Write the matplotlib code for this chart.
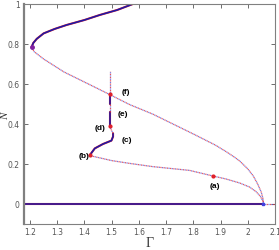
import matplotlib
matplotlib.use('Agg')
import matplotlib.pyplot as plt

# upper stable branch (solid)
gam_up = [1.206, 1.212, 1.225, 1.25, 1.29, 1.334, 1.40, 1.456, 1.52, 1.578]
n_up = [0.785, 0.805, 0.826, 0.853, 0.875, 0.895, 0.92, 0.945, 0.97, 1.0]

# upper unstable branch (dotted)
gam_mid = [1.206, 1.215, 1.25, 1.325, 1.422, 1.496, 1.566, 1.65, 1.725, 1.80,
           1.88, 1.92, 1.95, 1.97, 2.0, 2.02, 2.036, 2.049, 2.055, 2.058]
n_mid = [0.785, 0.762, 0.725, 0.66, 0.595, 0.545, 0.497, 0.45, 0.40, 0.35,
         0.295, 0.262, 0.235, 0.215, 0.175, 0.14, 0.10, 0.06, 0.03, 0.0]

# lower unstable branch (dotted), from (b) to the end
gam_low = [1.42, 1.5, 1.566, 1.65, 1.786, 1.872, 1.92, 1.97, 2.006, 2.03, 2.045, 2.055, 2.058]
n_low = [0.242, 0.217, 0.203, 0.187, 0.168, 0.14, 0.125, 0.105, 0.085, 0.062, 0.04, 0.015, 0.0]

# (b) -> (c) solid
gam_bc = [1.42, 1.438, 1.468, 1.499, 1.505, 1.505]
n_bc = [0.245, 0.278, 0.30, 0.317, 0.337, 0.353]

# (c) -> (d) dotted
gam_cd = [1.505, 1.498, 1.493]
n_cd = [0.353, 0.372, 0.388]

# vertical pieces near Gamma = 1.493
gam_v = 1.493
n_de = [0.388, 0.46]     # solid
n_e_f = [0.46, 0.50]     # dotted
n_f = [0.50, 0.548]      # solid
n_top = [0.548, 0.665]   # dotted

# trivial branch
gam_zero_solid = [1.18, 2.055]
gam_zero_dot = [2.055, 2.1]

# marked points
pts = {'(a)': (1.872, 0.14), '(b)': (1.42, 0.245), '(d)': (1.493, 0.388), '(f)': (1.493, 0.548)}
labels = {'(a)': (1.878, 0.085), '(b)': (1.40, 0.237), '(c)': (1.554, 0.32),
          '(d)': (1.456, 0.375), '(e)': (1.54, 0.45), '(f)': (1.552, 0.558)}

RED = '#e0202a'
BLUE = '#1a1aa8'


def solid(x, y):
    plt.plot(x, y, '-', color=RED, lw=1.5, solid_capstyle='round')
    plt.plot(x, y, '-', color=BLUE, lw=1.1, solid_capstyle='round')


def dotted(x, y):
    plt.plot(x, y, color=RED, lw=0.9, linestyle=(0, (1, 1.6)), alpha=0.75)
    plt.plot(x, y, color='#5050d0', lw=0.9, linestyle=(1.3, (1, 1.6)), alpha=0.75)


fig = plt.figure(figsize=(2.79, 2.5), dpi=100)
ax = fig.add_axes([0.086, 0.104, 0.9, 0.88])

solid(gam_zero_solid, [0, 0])
dotted(gam_zero_dot, [0, 0])
solid(gam_up, n_up)
dotted(gam_mid, n_mid)
dotted(gam_low, n_low)
solid(gam_bc, n_bc)
dotted(gam_cd, n_cd)
solid([gam_v, gam_v], n_de)
dotted([gam_v, gam_v], n_e_f)
solid([gam_v, gam_v], n_f)
dotted([gam_v, gam_v], n_top)

plt.plot([gam_up[0]], [n_up[0]], 'o', color='#8020a0', ms=2.5)
for k, (x, y) in pts.items():
    plt.plot([x], [y], 'o', color=RED, ms=2.0)
plt.plot([2.055], [0], 's', color='#4040e0', ms=2)

for k, (x, y) in labels.items():
    plt.text(x, y, k, fontsize=6, fontweight='bold', ha='center', va='center',
             family='Liberation Sans')

ax.set_xlim(1.178, 2.1)
ax.set_ylim(-0.1, 1.0)
ax.set_xticks([1.2, 1.3, 1.4, 1.5, 1.6, 1.7, 1.8, 1.9, 2.0, 2.1])
ax.set_xticklabels(['1.2', '1.3', '1.4', '1.5', '1.6', '1.7', '1.8', '1.9', '2', '2.1'])
ax.set_yticks([0, 0.2, 0.4, 0.6, 0.8, 1])
ax.set_yticklabels(['0', '0.2', '0.4', '0.6', '0.8', '1'])
ax.tick_params(direction='in', top=True, right=True, length=3, width=0.6,
               colors='#555555', labelsize=5.5, pad=3)
for s in ax.spines.values():
    s.set_color('#808080')
    s.set_linewidth(0.8)
ax.spines['left'].set_linewidth(1.6)

ax.set_xlabel('Γ', family='Liberation Serif', fontsize=10, labelpad=0, color='#333333')
ax.set_ylabel('N', family='Liberation Serif', fontstyle='italic', fontsize=8,
              color='#333333', va='center')
ax.yaxis.set_label_coords(-0.072, 0.49)

plt.savefig('out.png', dpi=100)
